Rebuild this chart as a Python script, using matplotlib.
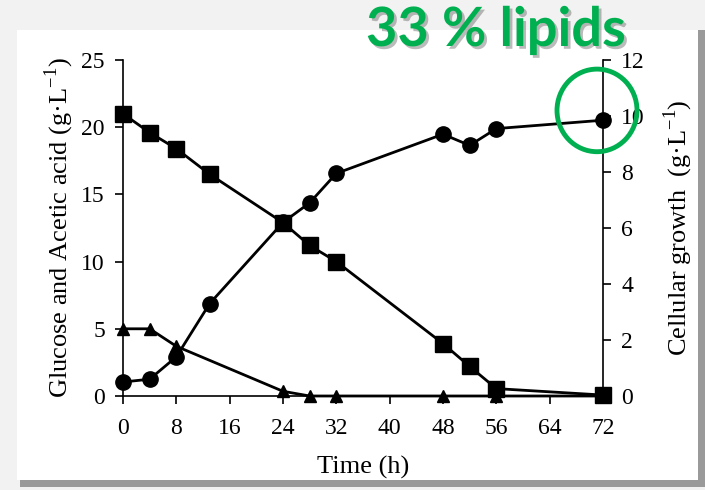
import numpy as np
import matplotlib
matplotlib.use("Agg")
import matplotlib.pyplot as plt
from matplotlib.patches import Rectangle, Ellipse
import matplotlib.patheffects as pe

# sampling times (h)
t_glucose = [0, 4, 8, 13, 24, 28, 32, 48, 52, 56, 72]
glucose = [21.0, 19.6, 18.4, 16.5, 12.9, 11.2, 10.0, 3.9, 2.2, 0.55, 0.07]

t_acetic = [0, 4, 8, 24, 28, 32, 48, 56, 72]
acetic = [5.0, 5.0, 3.7, 0.35, 0.0, 0.0, 0.0, 0.0, 0.0]

t_cells = [0, 4, 8, 13, 24, 28, 32, 48, 52, 56, 72]
cells = [0.5, 0.6, 1.4, 3.3, 6.2, 6.9, 7.95, 9.35, 8.95, 9.55, 9.85]

x_ticks = [0, 8, 16, 24, 32, 40, 48, 56, 64, 72]
left_ticks = [0, 5, 10, 15, 20, 25]
right_ticks = [0, 2, 4, 6, 8, 10, 12]

serif = "Liberation Serif"
plt.rcParams["mathtext.fontset"] = "custom"
plt.rcParams["mathtext.rm"] = serif

W, H = 705, 490
fig = plt.figure(figsize=(W / 100, H / 100), dpi=100)
fig.patch.set_facecolor("#f2f2f2")

# card with shadow, drawn in a background axes
bg = fig.add_axes([0, 0, 1, 1], zorder=-10)
bg.set_xlim(0, W)
bg.set_ylim(H, 0)
bg.axis("off")
bg.add_patch(Rectangle((20, 30), 685, 457, facecolor="#9a9a9a", edgecolor="none"))
bg.add_patch(Rectangle((17, 30), 681, 450, facecolor="white", edgecolor="none"))

ax = fig.add_axes([123 / W, (H - 396) / H, 480 / W, 336 / H])
ax.set_facecolor("none")
ax2 = ax.twinx()

lw = 2.0

ax.plot(t_glucose, glucose, color="black", lw=lw, marker="s", ms=11, clip_on=False, zorder=3)
ax.plot(t_acetic, acetic, color="black", lw=lw, marker="^", ms=9, clip_on=False, zorder=3)
ax2.plot(t_cells, cells, color="black", lw=lw, marker="o", ms=11, clip_on=False, zorder=3)

ax.set_xlim(0, 72)
ax.set_ylim(0, 25)
ax2.set_ylim(0, 12)
ax.set_xticks(x_ticks)
ax.set_yticks(left_ticks)
ax2.set_yticks(right_ticks)

for a in (ax, ax2):
    a.spines["top"].set_visible(False)
    for s in a.spines.values():
        s.set_linewidth(1.2)
    a.tick_params(direction="out", length=6, width=1.2, labelsize=17, pad=7)
    for lab in a.get_xticklabels() + a.get_yticklabels():
        lab.set_fontfamily(serif)
ax.tick_params(axis="x", pad=10)
ax.spines["right"].set_visible(False)
ax2.spines["left"].set_visible(False)
ax2.spines["bottom"].set_visible(False)

ax.set_xlabel("Time (h)", fontsize=19, fontfamily=serif, labelpad=12)
ax.set_ylabel("Glucose and Acetic acid (g\u00b7L$^{-1}$)", fontsize=19, fontfamily=serif, labelpad=4)
ax2.set_ylabel("Cellular growth  (g\u00b7L$^{-1}$)", fontsize=19, fontfamily=serif, labelpad=12)

green = "#00B050"
ax2.add_patch(Ellipse((71.1, 10.2), 12, 2.95, fill=False, edgecolor=green, lw=3.5,
                      clip_on=False, zorder=5))

fig.text(366 / W, (H - 46) / H, "33 % lipids", color=green, fontsize=39, fontweight="bold",
         fontfamily="Lato", ha="left", va="baseline",
         path_effects=[pe.SimplePatchShadow(offset=(2, -2), shadow_rgbFace="#555555", alpha=0.4),
                       pe.Normal()])

fig.savefig("out.png", dpi=100, facecolor=fig.get_facecolor())
